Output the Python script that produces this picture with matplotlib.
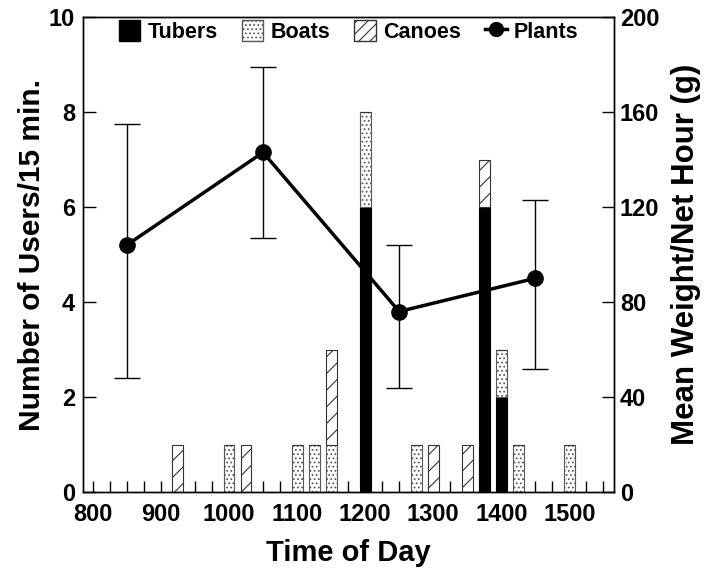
import matplotlib
matplotlib.use("Agg")
import matplotlib.pyplot as plt
import numpy as np
from matplotlib.patches import Patch
from matplotlib.lines import Line2D

plt.rcParams['font.family'] = ['Liberation Sans', 'DejaVu Sans']
plt.rcParams['font.weight'] = 'bold'
plt.rcParams['hatch.linewidth'] = 0.8

# ---- data ----
times = [925, 1000, 1025, 1100, 1125, 1150, 1200, 1275, 1300, 1350, 1375, 1400, 1425, 1500]
tubers = [0, 0, 0, 0, 0, 0, 6, 0, 0, 0, 6, 2, 0, 0]
boats = [0, 1, 0, 1, 1, 1, 2, 1, 0, 0, 0, 1, 1, 1]
canoes = [1, 0, 1, 0, 0, 2, 0, 0, 1, 1, 1, 0, 0, 0]

plant_times = [850, 1050, 1250, 1450]
plant_mean = [104, 143, 76, 90]
plant_low = [48, 107, 44, 52]
plant_high = [155, 179, 104, 123]

major_ticks = [800, 900, 1000, 1100, 1200, 1300, 1400, 1500]
left_ticks = [0, 2, 4, 6, 8, 10]
right_ticks = [0, 40, 80, 120, 160, 200]

# ---- figure ----
fig = plt.figure(figsize=(7.1, 5.8), dpi=100)
ax = fig.add_axes([0.1173, 0.1517, 0.748, 0.819])
ax2 = ax.twinx()

t = np.array(times)
tb = np.array(tubers)
bo = np.array(boats)
ca = np.array(canoes)
w = 16

ax.bar(t, tb, width=w, color='black', edgecolor='black', linewidth=0.8, zorder=2)
ax.bar(t, bo, width=w, bottom=tb, color='white', edgecolor='0.35', hatch='....',
       linewidth=0.8, zorder=2)
ax.bar(t, ca, width=w, bottom=tb + bo, color='white', edgecolor='0.2', hatch='//',
       linewidth=0.8, zorder=2)

pm = np.array(plant_mean)
yerr = [pm - np.array(plant_low), np.array(plant_high) - pm]
ax2.errorbar(plant_times, pm, yerr=yerr, fmt='-o', color='black', lw=2.5,
             ms=11, elinewidth=1.0, capsize=9.5, capthick=1.0, zorder=3)

ax.set_xlim(786, 1566)
ax.set_ylim(0, 10)
ax2.set_ylim(0, 200)

ax.set_xticks(major_ticks)
ax.set_xticks(np.arange(800, 1551, 25), minor=True)
ax.set_yticks(left_ticks)
ax2.set_yticks(right_ticks)

ax.tick_params(axis='x', which='both', direction='in', length=8, width=1,
               labelsize=17, pad=8, top=False)
ax.tick_params(axis='y', direction='in', length=9, width=1, labelsize=17, pad=6)
ax2.tick_params(axis='y', direction='in', length=9, width=1, labelsize=17, pad=4)

for lab in ax.get_xticklabels() + ax.get_yticklabels() + ax2.get_yticklabels():
    lab.set_fontweight('bold')

for a in (ax, ax2):
    for s in a.spines.values():
        s.set_linewidth(1.0)
        s.set_color('black')

ax.set_xlabel('Time of Day', fontsize=21, fontweight='bold', labelpad=9)
ax.set_ylabel('Number of Users/15 min.', fontsize=21.5, fontweight='bold', labelpad=2)
ax2.set_ylabel('Mean Weight/Net Hour (g)', fontsize=22.5, fontweight='bold',
               rotation=90, labelpad=8)

handles = [
    Patch(facecolor='black', edgecolor='black'),
    Patch(facecolor='white', edgecolor='0.35', hatch='....'),
    Patch(facecolor='white', edgecolor='0.2', hatch='///'),
    Line2D([0], [0], color='black', lw=2.5, marker='o', ms=10),
]
labels = ['Tubers', 'Boats', 'Canoes', 'Plants']
leg = ax2.legend(handles, labels, loc='upper center', ncol=4, frameon=False,
                 handlelength=1.0, handleheight=1.1,
                 handletextpad=0.35, columnspacing=1.1, borderaxespad=0.0,
                 borderpad=0.15, prop={'weight': 'bold', 'size': 15.5})

fig.savefig('out.png', dpi=100)
